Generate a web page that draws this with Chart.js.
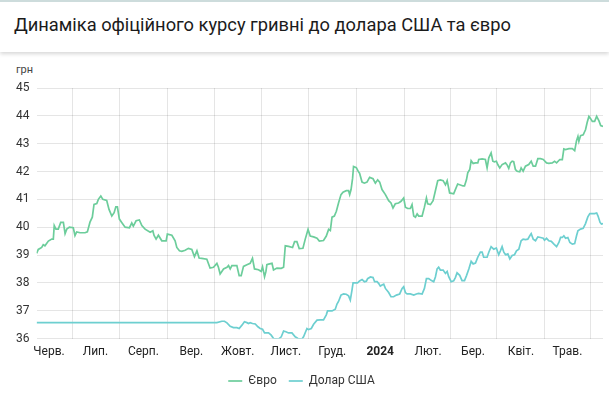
<!DOCTYPE html>
<html lang="uk">
<head>
<meta charset="utf-8">
<title>Динаміка офіційного курсу гривні</title>
<script src="https://cdn.jsdelivr.net/npm/chart.js@4.4.1/dist/chart.umd.min.js"></script>
<style>
    html, body { margin: 0; padding: 0; background: #fff; }
    body { width: 609px; height: 398px; position: relative; overflow: hidden; font-family: Roboto, sans-serif; }
    .header {
        position: absolute; left: 0; top: 0; width: 609px; height: 52px;
        border-top: 2px solid #cddcdc;
        box-sizing: border-box;
        box-shadow: 0 2px 4px rgba(0, 0, 0, 0.16);
        background: #fff;
    }
    .header h1 {
        margin: 0; position: absolute; left: 14px; top: 12px;
        font-size: 18.3px; font-weight: 400; color: #1b1b1b;
    }
    .unit { position: absolute; left: 16px; top: 63px; font-size: 11px; color: #444; }
    #chart { position: absolute; left: 0; top: 56px; }
</style>
</head>
<body>
<div class="header"><h1>Динаміка офіційного курсу гривні до долара США та євро</h1></div>
<div class="unit">грн</div>
<canvas id="chart" width="609" height="342"></canvas>
<script>
// --- Data (day 0 = 24.05.2023) ---
const monthTicks = [8, 38, 69, 100, 130, 161, 191, 222, 253, 282, 313, 343];
const monthLabels = ['Черв.', 'Лип.', 'Серп.', 'Вер.', 'Жовт.', 'Лист.', 'Груд.', '2024', 'Лют.', 'Бер.', 'Квіт.', 'Трав.'];
const yearTick = 222;

const euroDays = [
    0, 1.1, 3.3, 4.3, 5.4, 7.6, 9.8, 10.8, 11.4, 12.5, 14.0, 15.6, 17.3, 18.4, 19.5, 21.2, 23.7, 24.8, 25.9, 28.1,
    31.3, 32.8, 34.5, 36.0, 37.1, 38.9, 39.9, 41.5, 42.8, 45.3, 46.8, 48.6, 50.1, 51.2, 52.2, 53.5, 55.0, 57.2, 60.0, 61.5,
    62.5, 64.3, 66.4, 68.0, 70.1, 73.4, 75.1, 75.9, 77.2, 78.7, 80.9, 83.7, 84.5, 87.4, 89.5, 90.6, 92.3, 93.8, 96.0, 98.1,
    100.3, 102.0, 103.6, 105.0, 106.7, 110.0, 112.1, 114.3, 116.5, 117.5, 118.6, 120.8, 123.0, 124.0, 125.1, 126.2, 129.4, 130.9, 132.2, 133.7,
    135.9, 138.0, 139.5, 140.8, 143.4, 145.1, 146.0, 147.3, 148.2, 148.8, 149.9, 152.1, 153.1, 155.3, 158.1, 159.6, 160.7, 162.8, 165.4, 166.7,
    168.2, 169.7, 172.1, 173.6, 175.4, 176.8, 179.0, 181.2, 182.7, 185.4, 187.2, 188.7, 189.8, 190.9, 192.4, 193.7, 195.1, 196.7, 198.0, 200.1,
    201.6, 202.3, 203.2, 204.2, 204.8, 206.6, 208.1, 208.7, 210.3, 211.8, 213.5, 215.2, 217.4, 218.9, 220.4, 221.7, 223.2, 225.4, 227.5, 229.0,
    230.3, 231.8, 233.9, 235.5, 237.2, 238.3, 239.8, 241.5, 242.6, 243.7, 244.8, 245.9, 246.9, 249.1, 250.6, 251.9, 252.7, 254.5, 256.2, 257.7,
    259.2, 260.9, 262.7, 264.2, 265.3, 266.9, 269.5, 270.6, 272.1, 275.6, 276.5, 277.8, 278.6, 279.9, 280.8, 282.1, 283.6, 285.1, 285.7, 287.9,
    290.0, 291.1, 292.2, 293.7, 294.8, 295.8, 297.1, 298.0, 299.3, 300.8, 303.0, 304.1, 305.1, 306.2, 307.3, 308.3, 309.4, 310.5, 312.2, 313.1,
    314.4, 315.9, 318.0, 319.6, 320.9, 322.4, 323.9, 325.6, 327.4, 329.5, 331.0, 333.2, 334.7, 336.0, 338.1, 339.7, 340.7, 341.8, 344.0, 346.2,
    347.7, 348.9, 349.8, 350.4, 351.5, 353.2, 354.7, 355.8, 356.9, 358.0, 359.1, 360.6, 361.9, 363.4, 364.5, 366
];
const euroRates = [
    39.06, 39.20, 39.27, 39.37, 39.33, 39.50, 39.57, 39.57, 40.06, 39.93, 39.93, 40.17, 40.17, 39.77, 39.93, 40.00, 39.98, 39.70, 39.83, 39.80,
    39.80, 39.83, 40.18, 40.36, 40.82, 40.85, 41.00, 41.12, 41.00, 40.96, 40.64, 40.40, 40.52, 40.73, 40.73, 40.29, 40.17, 40.00, 39.98, 40.15,
    40.04, 40.23, 40.26, 40.06, 39.93, 39.82, 39.87, 39.70, 39.57, 39.71, 39.51, 39.51, 39.75, 39.71, 39.51, 39.27, 39.15, 39.13, 39.17, 39.24,
    39.20, 38.94, 39.15, 38.89, 38.88, 38.85, 38.53, 38.56, 38.70, 38.56, 38.32, 38.50, 38.56, 38.62, 38.50, 38.62, 38.62, 38.26, 38.26, 38.59,
    38.65, 38.70, 38.88, 38.50, 38.47, 38.41, 38.58, 38.22, 38.41, 38.65, 38.67, 38.70, 38.46, 38.53, 38.52, 38.56, 39.33, 39.31, 39.27, 39.48,
    39.48, 39.23, 39.24, 39.57, 39.92, 39.68, 39.65, 39.60, 39.50, 39.52, 39.68, 39.92, 39.88, 40.36, 40.40, 40.57, 40.87, 41.17, 41.26, 41.31,
    41.31, 41.17, 41.35, 41.76, 42.18, 42.14, 41.98, 41.94, 41.62, 41.58, 41.62, 41.79, 41.74, 41.58, 41.70, 41.62, 41.35, 41.17, 40.95, 40.87,
    40.69, 40.84, 40.87, 40.93, 41.05, 40.72, 40.67, 40.67, 40.81, 40.40, 40.36, 40.48, 40.40, 40.40, 40.72, 41.05, 40.84, 40.81, 40.95, 41.31,
    41.67, 41.70, 41.67, 41.52, 41.67, 41.23, 41.20, 41.35, 41.55, 41.48, 41.48, 41.71, 41.95, 42.07, 42.39, 42.29, 42.31, 42.31, 42.43, 42.45,
    42.43, 42.13, 42.49, 42.67, 42.37, 42.35, 42.37, 42.25, 42.13, 42.25, 42.31, 42.23, 42.11, 42.31, 42.37, 42.35, 42.07, 42.01, 41.99, 42.13,
    42.01, 42.19, 42.25, 42.37, 42.19, 42.19, 42.46, 42.46, 42.43, 42.31, 42.29, 42.31, 42.37, 42.31, 42.43, 42.43, 42.81, 42.79, 42.82, 42.82,
    42.75, 43.11, 43.26, 43.08, 43.29, 43.32, 43.50, 43.77, 43.98, 43.90, 43.80, 43.80, 43.98, 43.82, 43.65, 43.62
];

const usdDays = [
    0, 30, 60, 90, 116.5, 119.7, 121.4, 123.0, 125.1, 127.2, 129.4, 130.9, 132.7, 134.3, 135.9, 136.9, 138.0, 139.5, 141.3, 143.0,
    144.5, 146.0, 147.3, 149.9, 151.6, 153.1, 156.3, 158.1, 159.6, 161.1, 162.8, 165.0, 167.1, 168.9, 171.5, 172.5, 174.7, 175.7, 177.5, 179.0,
    181.2, 183.3, 185.4, 187.2, 188.0, 190.9, 193.0, 194.1, 195.1, 196.7, 198.4, 200.1, 201.6, 202.7, 203.8, 204.5, 206.0, 207.4, 208.7, 210.3,
    211.8, 213.1, 213.9, 215.7, 217.4, 218.4, 220.0, 221.0, 222.1, 223.2, 224.3, 225.4, 227.5, 229.0, 230.7, 232.5, 234.6, 236.2, 237.2, 238.3,
    239.4, 241.5, 243.7, 245.4, 246.9, 249.1, 250.6, 251.9, 253.4, 254.9, 256.6, 257.7, 258.8, 259.8, 260.9, 262.7, 264.2, 265.3, 266.3, 267.9,
    269.5, 270.6, 271.7, 273.4, 274.9, 276.5, 277.8, 279.3, 280.8, 282.1, 283.6, 285.1, 286.8, 287.9, 288.9, 291.1, 292.2, 293.7, 295.4, 297.1,
    298.6, 299.7, 300.8, 301.9, 303.0, 304.5, 305.8, 307.3, 308.8, 310.1, 311.6, 313.1, 314.4, 315.9, 317.4, 318.7, 319.6, 320.9, 322.4, 323.9,
    325.6, 327.4, 328.2, 329.5, 331.0, 332.6, 334.3, 336.0, 337.5, 338.6, 339.7, 340.7, 341.8, 343.3, 344.6, 346.2, 347.7, 348.9, 349.8, 351.5,
    353.2, 354.7, 356.2, 357.5, 359.1, 360.6, 361.9, 362.8, 364.1, 365.0, 366
];
const usdRates = [
    36.57, 36.57, 36.57, 36.57, 36.57, 36.62, 36.62, 36.56, 36.44, 36.39, 36.39, 36.36, 36.48, 36.60, 36.57, 36.54, 36.57, 36.54, 36.52, 36.42,
    36.36, 36.33, 36.20, 36.20, 36.12, 36.00, 35.98, 36.06, 36.27, 36.24, 36.20, 36.20, 36.06, 36.00, 35.98, 36.06, 36.36, 36.32, 36.36, 36.51,
    36.66, 36.67, 36.67, 36.85, 36.99, 36.99, 37.05, 37.24, 37.33, 37.56, 37.60, 37.59, 37.53, 37.38, 37.74, 38.00, 38.00, 38.00, 38.07, 38.12,
    38.04, 38.06, 38.15, 38.21, 38.19, 38.04, 38.04, 37.98, 37.88, 37.92, 37.95, 37.80, 37.65, 37.50, 37.50, 37.56, 37.60, 37.80, 37.86, 37.65,
    37.60, 37.60, 37.56, 37.60, 37.62, 37.60, 37.80, 38.15, 38.15, 38.09, 38.04, 38.21, 38.50, 38.56, 38.46, 38.46, 38.34, 38.41, 38.22, 38.04,
    38.07, 38.19, 38.36, 38.27, 38.08, 38.08, 38.26, 38.50, 38.77, 38.68, 38.71, 38.92, 39.10, 39.10, 38.92, 38.92, 39.10, 39.30, 39.21, 39.25,
    39.01, 39.15, 39.30, 39.10, 39.01, 39.04, 38.86, 38.98, 39.01, 39.15, 39.21, 39.51, 39.57, 39.55, 39.57, 39.69, 39.77, 39.57, 39.51, 39.65,
    39.63, 39.60, 39.53, 39.60, 39.51, 39.49, 39.39, 39.30, 39.45, 39.63, 39.63, 39.69, 39.60, 39.63, 39.45, 39.39, 39.41, 39.69, 39.87, 39.93,
    39.96, 40.13, 40.37, 40.49, 40.49, 40.49, 40.51, 40.40, 40.17, 40.11, 40.13
];

const toPoints = (days, rates) => days.map((d, i) => ({ x: d, y: rates[i] }));

const fontFamily = 'Roboto, "Liberation Sans", sans-serif';

new Chart(document.getElementById('chart'), {
    type: 'line',
    data: {
        datasets: [
            {
                label: 'Євро',
                data: toPoints(euroDays, euroRates),
                borderColor: '#6ccd9b',
                backgroundColor: '#6ccd9b',
                borderWidth: 1.7,
                pointRadius: 0,
                tension: 0
            },
            {
                label: 'Долар США',
                data: toPoints(usdDays, usdRates),
                borderColor: '#6dcfd0',
                backgroundColor: '#6dcfd0',
                borderWidth: 1.7,
                pointRadius: 0,
                tension: 0
            }
        ]
    },
    options: {
        responsive: false,
        animation: false,
        layout: { padding: { top: 32, right: 6, left: 0, bottom: 1 } },
        scales: {
            x: {
                type: 'linear',
                min: 0,
                max: 366,
                border: { display: false },
                grid: { offset: true, drawTicks: false, color: 'rgba(0,0,0,0.1)' },
                afterBuildTicks: (scale) => {
                    scale.ticks = monthTicks.map(v => ({ value: v, major: v === yearTick }));
                },
                afterFit: (scale) => { scale.height = 24.5; },
                ticks: {
                    autoSkip: false,
                    maxRotation: 0,
                    padding: 6,
                    color: '#222',
                    font: (ctx) => ({
                        family: fontFamily,
                        size: 12,
                        weight: ctx.tick && ctx.tick.major ? 'bold' : 'normal'
                    }),
                    callback: (value, index) => monthLabels[index]
                }
            },
            y: {
                min: 36,
                max: 45,
                border: { display: false },
                grid: { drawTicks: false, color: 'rgba(0,0,0,0.1)' },
                afterFit: (scale) => { scale.width = 36.6; },
                ticks: {
                    stepSize: 1,
                    padding: 7,
                    color: '#333',
                    font: { family: fontFamily, size: 12 }
                }
            }
        },
        plugins: {
            tooltip: { enabled: false },
            legend: {
                position: 'bottom',
                labels: {
                    usePointStyle: true,
                    pointStyle: 'line',
                    pointStyleWidth: 14,
                    padding: 12,
                    color: '#333',
                    font: { family: fontFamily, size: 12 }
                }
            }
        }
    }
});
</script>
</body>
</html>
